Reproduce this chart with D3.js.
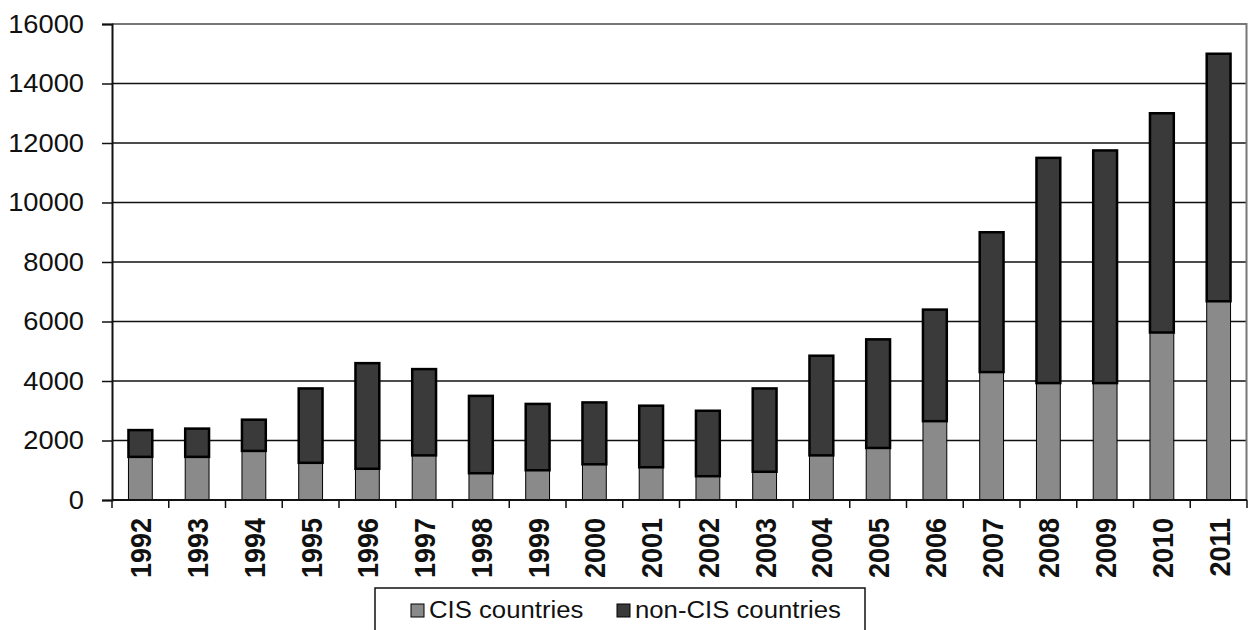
<!DOCTYPE html>
<html>
<head>
<meta charset="utf-8">
<script src="https://cdn.jsdelivr.net/npm/d3@7"></script>
<style>
  html, body { margin: 0; padding: 0; background: #fff; }
  svg { display: block; font-family: Arial, "Liberation Sans", sans-serif; }
</style>
</head>
<body>
<svg id="chart" width="1248" height="630"></svg>
<script>
// Years shown along the horizontal axis
const years = ["1992","1993","1994","1995","1996","1997","1998","1999","2000","2001",
               "2002","2003","2004","2005","2006","2007","2008","2009","2010","2011"];
// Lower segment: CIS countries
const cisValues = [1450,1450,1650,1250,1050,1500,900,1000,1200,1100,
                   800,950,1500,1750,2650,4300,3930,3930,5630,6680];
// Upper segment: non-CIS countries (difference to the stack total)
const totals = [2350,2400,2700,3750,4600,4400,3500,3230,3280,3170,
                3000,3750,4850,5400,6400,9000,11500,11750,13000,15000];
const nonCisValues = totals.map((t, i) => t - cisValues[i]);
const yTicks = [0,2000,4000,6000,8000,10000,12000,14000,16000];
const seriesNames = ["CIS countries", "non-CIS countries"];
const seriesColors = ["#8a8a8a", "#3a3a3a"];

const svg = d3.select("#chart");
const plotLeft = 112, plotRight = 1247, plotTop = 24, plotBottom = 500;

const x = d3.scaleBand().domain(years).range([plotLeft, plotRight]).padding(0);
const y = d3.scaleLinear().domain([0, 16000]).range([plotBottom, plotTop]);

const rows = years.map((yr, i) => ({ year: yr, cis: cisValues[i], noncis: nonCisValues[i] }));
const stacked = d3.stack().keys(["cis", "noncis"])(rows);

// horizontal gridlines
svg.append("g")
  .selectAll("line")
  .data(yTicks.filter(v => v > 0 && v < 16000))
  .join("line")
  .attr("x1", plotLeft).attr("x2", plotRight)
  .attr("y1", d => y(d)).attr("y2", d => y(d))
  .attr("stroke", "#111").attr("stroke-width", 1.5);

// plot area frame (top and right)
svg.append("path")
  .attr("d", `M${plotLeft},${y(16000)}H${plotRight - 0.5}V${plotBottom}`)
  .attr("fill", "none").attr("stroke", "#777").attr("stroke-width", 2);

// y axis
const yAxis = svg.append("g")
  .attr("transform", `translate(${plotLeft},0)`)
  .call(d3.axisLeft(y).tickValues(yTicks).tickSize(10).tickPadding(0).tickFormat(d3.format("d")));
yAxis.select(".domain").attr("stroke", "#111").attr("stroke-width", 2);
yAxis.selectAll(".tick line").attr("stroke", "#111").attr("stroke-width", 1.5);
// labels slightly widened, right edge near x = 84
yAxis.selectAll(".tick text")
  .attr("x", null)
  .attr("transform", "translate(-28,0) scale(1.07,1)")
  .attr("font-size", 25.5).attr("fill", "#111")
  .attr("font-family", "Arial, 'Liberation Sans', sans-serif");

// bars
const barW = x.bandwidth() * 0.42;
const layers = svg.append("g").selectAll("g")
  .data(stacked)
  .join("g")
  .attr("fill", (d, i) => seriesColors[i])
  .attr("stroke", "#000")
  .attr("stroke-width", (d, i) => i === 0 ? 1 : 2.5);
layers.selectAll("rect")
  .data(d => d)
  .join("rect")
  .attr("x", d => x(d.data.year) + (x.bandwidth() - barW) / 2)
  .attr("width", barW)
  .attr("y", d => y(d[1]))
  .attr("height", d => y(d[0]) - y(d[1]));

// x axis with ticks at band boundaries
const xAxis = svg.append("g").attr("transform", `translate(0,${plotBottom})`);
xAxis.append("line").attr("x1", plotLeft).attr("x2", plotRight)
  .attr("stroke", "#111").attr("stroke-width", 2);
xAxis.selectAll("line.tk")
  .data(years.concat(["end"]))
  .join("line").attr("class", "tk")
  .attr("x1", (d, i) => plotLeft + i * x.step()).attr("x2", (d, i) => plotLeft + i * x.step())
  .attr("y1", 0).attr("y2", 8)
  .attr("stroke", "#111").attr("stroke-width", 1.5);
xAxis.selectAll("text")
  .data(years)
  .join("text")
  .attr("transform", d => `translate(${x(d) + x.bandwidth() / 2 + 11},18) rotate(-90) scale(1,1.12)`)
  .attr("text-anchor", "end")
  .attr("font-size", 27).attr("font-weight", "bold").attr("fill", "#111")
  .text(d => d);

// legend
const legend = svg.append("g");
legend.append("rect").attr("x", 375).attr("y", 588).attr("width", 490).attr("height", 60)
  .attr("fill", "#fff").attr("stroke", "#111").attr("stroke-width", 1.5);
const legendX = [411, 617];
seriesNames.forEach((name, i) => {
  legend.append("rect").attr("x", legendX[i]).attr("y", 604).attr("width", 13).attr("height", 13)
    .attr("fill", seriesColors[i]).attr("stroke", "#000").attr("stroke-width", 1);
  legend.append("text")
    .attr("transform", `translate(${legendX[i] + 18},618) scale(1.05,1)`)
    .attr("font-size", 24.5).attr("fill", "#111").text(name);
});
</script>
</body>
</html>
